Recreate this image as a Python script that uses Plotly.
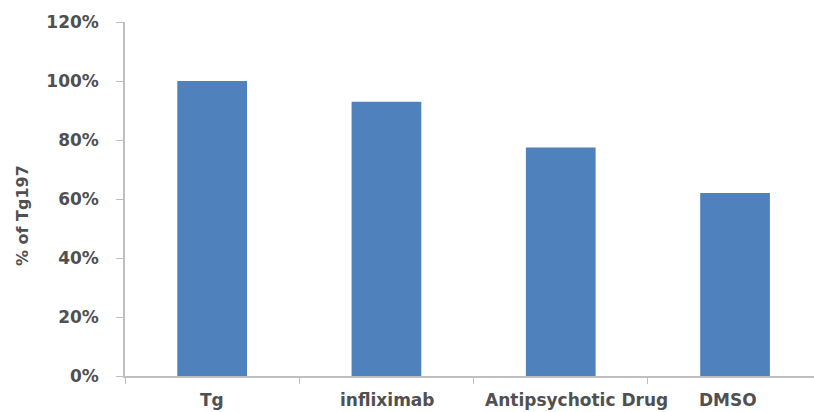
import plotly.graph_objects as go

categories = ["Tg", "infliximab", "Antipsychotic Drug", "DMSO"]
values = [1.00, 0.93, 0.775, 0.62]
y_ticks = [0, 0.2, 0.4, 0.6, 0.8, 1.0, 1.2]
y_tick_labels = ["0%", "20%", "40%", "60%", "80%", "100%", "120%"]

# horizontal nudges (px) that keep the long category labels apart
label_nudge = [0, 1, 16, -7]

bar_color = "#4F81BD"
axis_color = "#BFBFBF"
text_color = "#505050"
font_family = "DejaVu Sans, Verdana, sans-serif"

fig = go.Figure(
    go.Bar(
        x=categories,
        y=values,
        marker=dict(color=bar_color, line=dict(width=0)),
        width=0.4,
    )
)

left, right, top, bottom = 125, 0, 22, 36
plot_w = 814 - left - right

annotations = [
    dict(
        text="% of Tg197",
        xref="paper",
        yref="paper",
        x=(23 - left) / plot_w,
        y=(376 - 216) / 354,
        xanchor="center",
        yanchor="middle",
        textangle=-90,
        showarrow=False,
        font=dict(size=16, color=text_color, family=font_family, weight="bold"),
    )
]
for cat, dx in zip(categories, label_nudge):
    annotations.append(
        dict(
            text=cat,
            xref="x",
            yref="paper",
            x=cat,
            y=0,
            xanchor="center",
            yanchor="top",
            xshift=dx,
            yshift=-12,
            showarrow=False,
            font=dict(size=17, color=text_color, family=font_family, weight="bold"),
        )
    )

fig.update_layout(
    width=814,
    height=412,
    margin=dict(l=left, r=right, t=top, b=bottom, autoexpand=False),
    paper_bgcolor="white",
    plot_bgcolor="white",
    showlegend=False,
    font=dict(family=font_family, color=text_color),
    annotations=annotations,
)

fig.update_xaxes(
    type="category",
    range=[-0.5, -0.5 + plot_w / 174.3],
    showline=True,
    linecolor=axis_color,
    linewidth=1.5,
    ticks="outside",
    tickson="boundaries",
    ticklen=6,
    tickcolor=axis_color,
    showticklabels=False,
    automargin=False,
    showgrid=False,
    zeroline=False,
    fixedrange=True,
)

fig.update_yaxes(
    range=[0, 1.2],
    tickvals=y_ticks,
    ticktext=y_tick_labels,
    showline=True,
    linecolor=axis_color,
    linewidth=1.5,
    ticks="outside",
    ticklen=7,
    tickcolor=axis_color,
    automargin=False,
    ticklabelstandoff=14,
    tickfont=dict(size=17, color=text_color, weight="bold"),
    showgrid=False,
    zeroline=False,
    fixedrange=True,
)

fig.write_html("out.html")
